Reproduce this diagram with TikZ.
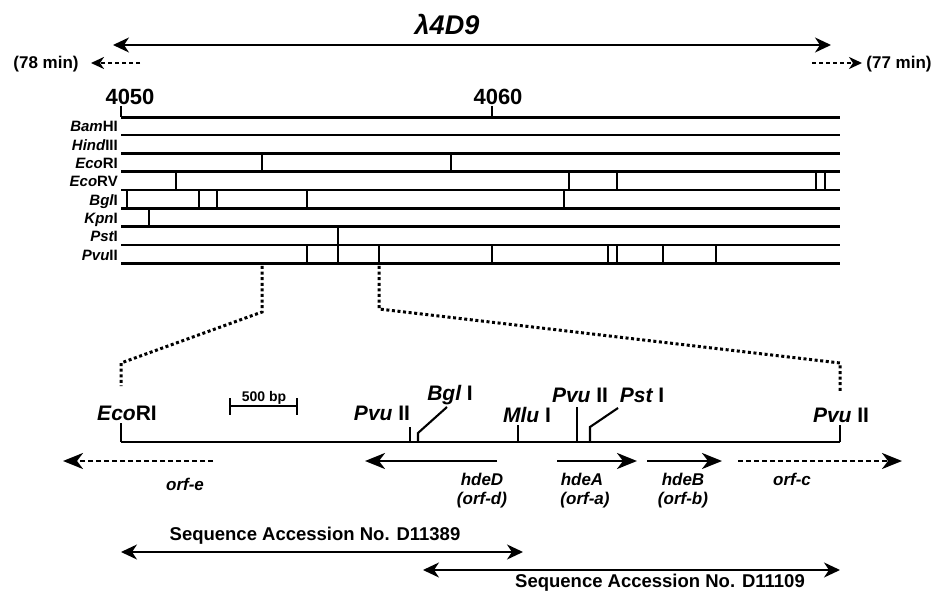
\documentclass[tikz,border=0pt]{standalone}
\usepackage{fontspec}
\setmainfont{Liberation Sans}
\usetikzlibrary{arrows.meta}
\newcommand\fsz[1]{\fontsize{#1}{#1}\selectfont}
\begin{document}
\begin{tikzpicture}[x=1pt,y=-1pt,
  rowlab/.style={font=\bfseries\fsz{15}, anchor=base east, inner sep=0pt},
  maplab/.style={font=\bfseries\fsz{21}, anchor=base, inner sep=0pt},
  genelab/.style={font=\bfseries\itshape\fsz{17}, anchor=base, inner sep=0pt},
  acclab/.style={font=\bfseries\fsz{18.5}, anchor=base, inner sep=0pt},
  minlab/.style={font=\bfseries\fsz{17}, anchor=base, inner sep=0pt},
  rowline/.style={line width=2.8pt},
  cutline/.style={line width=2.6pt},
  tickline/.style={line width=2.1pt},
  zoomline/.style={line width=3pt, dash pattern=on 3pt off 2.6pt},
  bigtip/.style={-{Stealth[length=20pt,width=16pt,inset=6pt]}},
  genearrow/.style={line width=2.6pt, bigtip},
  orfarrow/.style={line width=2.6pt, dash pattern=on 5pt off 3pt, bigtip},
  accarrow/.style={line width=2pt, {Stealth[length=16pt,width=15pt,inset=5pt]}-{Stealth[length=16pt,width=15pt,inset=5pt]}},
  minarrow/.style={line width=2.3pt, dash pattern=on 4pt off 3pt, -{Stealth[length=13pt,width=12pt,inset=4pt]}}
]
\useasboundingbox (0,0) rectangle (936,593);

% ---- top: lambda clone ----
\node[font=\bfseries\itshape\fsz{27}, anchor=base, inner sep=0pt] (lam) at (447,35) {λ4D9};
\coordinate (la) at (113,45);
\coordinate (lb) at (831,45);
\draw[accarrow] (la) -- (lb);
\node[minlab] (m78) at (46,69) {(78 min)};
\node[minlab] (m77) at (899,69) {(77 min)};
\coordinate (m78s) at (140,63);
\coordinate (m78t) at (91,63);
\coordinate (m77s) at (812,63);
\coordinate (m77t) at (862,63);
\draw[minarrow] (m78s) -- (m78t);
\draw[minarrow] (m77s) -- (m77t);

% ---- scale ----
\node[font=\bfseries\fsz{22}, anchor=base, inner sep=0pt] (k50) at (130,105) {4050};
\node[font=\bfseries\fsz{22}, anchor=base, inner sep=0pt] (k60) at (498,105) {4060};
\draw[tickline] (121,106) -- (121,117.3);
\draw[tickline] (492,106) -- (492,117.3);

% ---- restriction rows ----
\foreach \y in {117.3,135,153.3,171.7,190,208.3,226.7,245,263.3}
  \draw[rowline] (121,\y) -- (840,\y);

\node[rowlab] (rBam)  at (118,132) {\itshape Bam\upshape HI};
\node[rowlab] (rHind) at (118,150.3) {\itshape Hind\upshape III};
\node[rowlab] (rEcoI) at (118,168.7) {\itshape Eco\upshape RI};
\node[rowlab] (rEcoV) at (118,187) {\itshape Eco\upshape RV};
\node[rowlab] (rBgl)  at (118,205.3) {\itshape Bgl\upshape I};
\node[rowlab] (rKpn)  at (118,223.7) {\itshape Kpn\upshape I};
\node[rowlab] (rPst)  at (118,242) {\itshape Pst\upshape I};
\node[rowlab] (rPvu)  at (118,260.3) {\itshape Pvu\upshape II};

\foreach \x in {262,451} \draw[cutline] (\x,153.3) -- (\x,171.7);
\foreach \x in {176,569,617,816,825} \draw[cutline] (\x,171.7) -- (\x,190);
\foreach \x in {127,199,217,307,564} \draw[cutline] (\x,190) -- (\x,208.3);
\foreach \x in {149} \draw[cutline] (\x,208.3) -- (\x,226.7);
\foreach \x in {338} \draw[cutline] (\x,226.7) -- (\x,245);
\foreach \x in {307,338,379,492,608,617,663,716} \draw[cutline] (\x,245) -- (\x,263.3);

% ---- zoom lines ----
\draw[zoomline] (262,266) -- (262,312) -- (121,363) -- (121,386);
\draw[zoomline] (379,266) -- (379,309) -- (840,363) -- (840,393);

% ---- detailed map ----
\draw[rowline] (121,442) -- (840,442);
\draw[tickline] (121,423) -- (121,442);
\node[maplab] (lEco) at (127,420) {\itshape Eco\upshape RI};
% scale bar
\draw[tickline] (230,406) -- (297,406);
\draw[tickline] (230,398) -- (230,415);
\draw[tickline] (297,398) -- (297,415);
\node[font=\bfseries\fsz{14}, anchor=base, inner sep=0pt] (bp) at (264,401) {500 bp};
% sites
\draw[tickline] (410,427) -- (410,442);
\node[maplab] (lPvu1) at (382,420) {\itshape Pvu\upshape{} II};
\draw[tickline] (418,442) -- (418,433) -- (447,407);
\node[maplab] (lBgl) at (450,400) {\itshape Bgl\upshape{} I};
\draw[tickline] (518,425) -- (518,442);
\node[maplab] (lMlu) at (527,422) {\itshape Mlu\upshape{} I};
\draw[tickline] (577,407) -- (577,442);
\node[maplab] (lPvu2) at (580,402) {\itshape Pvu\upshape{} II};
\draw[tickline] (590,442) -- (590,427) -- (618,408);
\node[maplab] (lPst) at (642,402) {\itshape Pst\upshape{} I};
\draw[tickline] (840,425) -- (840,442);
\node[maplab] (lPvu3) at (841,422) {\itshape Pvu\upshape{} II};

% ---- genes ----
\draw[orfarrow] (213,461) -- (63,461);
\draw[genearrow] (497,461) -- (365,461);
\draw[genearrow] (557,461) -- (637,461);
\draw[genearrow] (647,461) -- (722,461);
\draw[orfarrow] (738,461) -- (902,461);
\node[genelab] (gE) at (185,490) {orf-e};
\node[genelab] (gD) at (482,485) {hdeD};
\node[genelab] (gD2) at (482,504) {(orf-d)};
\node[genelab] (gA) at (582,485) {hdeA};
\node[genelab] (gA2) at (585,504) {(orf-a)};
\node[genelab] (gB) at (683,485) {hdeB};
\node[genelab] (gB2) at (683,504) {(orf-b)};
\node[genelab] (gC) at (792,485) {orf-c};

% ---- accession ----
\node[acclab] (acc1) at (315,540) {Sequence Accession No. D11389};
\draw[accarrow] (121,552) -- (523,552);
\draw[accarrow] (423,570) -- (840,570);
\node[acclab] (acc2) at (660,587) {Sequence Accession No. D11109};
\end{tikzpicture}
\end{document}
